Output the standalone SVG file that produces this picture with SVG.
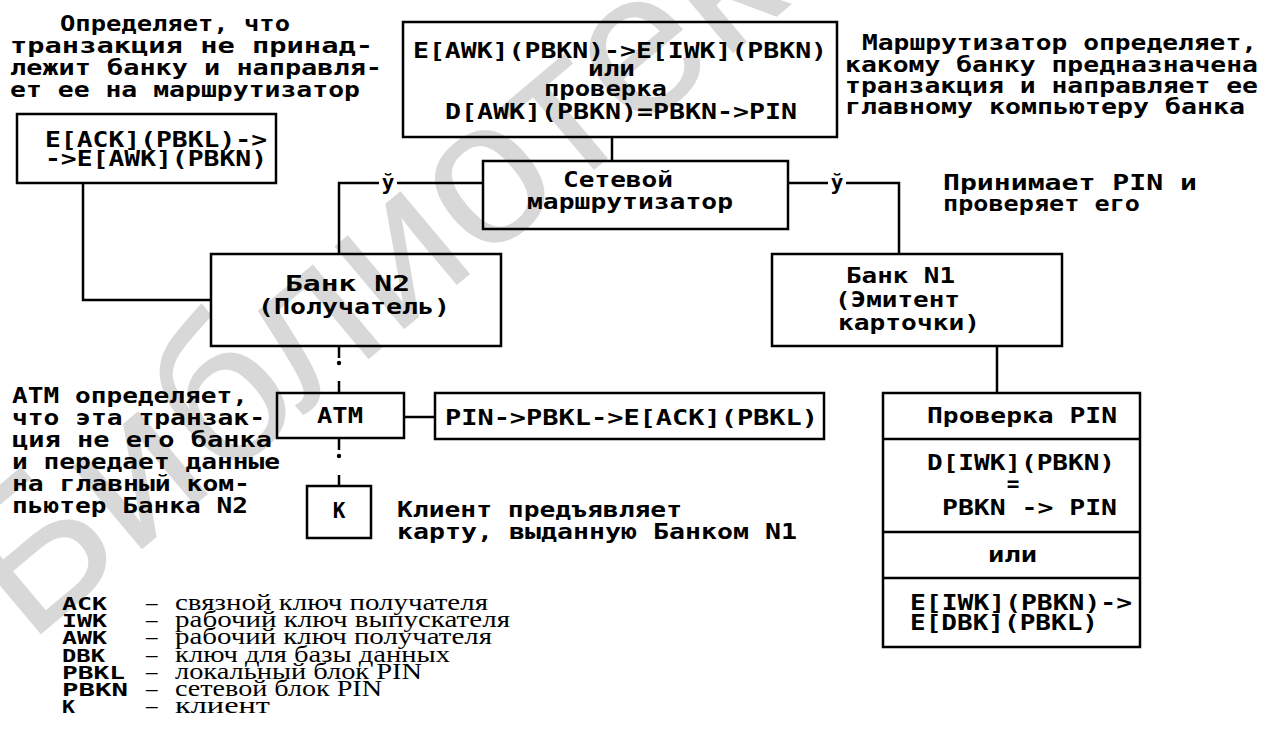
<svg xmlns="http://www.w3.org/2000/svg" width="1274" height="748" viewBox="0 0 1274 748">
<style>
.t{font-family:"DejaVu Sans Mono","Liberation Mono",monospace;font-weight:bold;font-size:21px;fill:#000}
.c{text-anchor:middle}
.s{font-family:"Liberation Serif","Times New Roman",serif;font-size:23px;fill:#000}
.a{font-family:"DejaVu Sans Mono","Liberation Mono",monospace;font-weight:bold;font-size:17px;fill:#000}
.box{fill:none;stroke:#000;stroke-width:2.5}
.ln{fill:none;stroke:#000;stroke-width:2.5}
.wm{font-family:"Liberation Sans",Arial,sans-serif;font-size:205px;fill:#d8d8d8}
</style>
<rect width="1274" height="748" fill="#fff"/>
<g id="watermark">
<text class="wm" transform="translate(28,645) rotate(-40)">Библиотека</text>
</g>
<g id="connectors">
<path class="ln" d="M612,137V161"/>
<path class="ln" d="M483,183H397M379,183H339V254"/>
<path class="ln" d="M788,183H828M846,183H899V254"/>
<path class="ln" d="M83,183V300H211"/>
<path class="ln" d="M339,346V358M339,381V393"/>
<circle cx="339" cy="363" r="2.2" fill="#000"/>
<path class="ln" d="M339,438V450M339,475V486"/>
<circle cx="339" cy="456" r="2.2" fill="#000"/>
<path class="ln" d="M404,417H435"/>
<path class="ln" d="M997,346V393"/>
<text class="t c" x="388" y="190" font-size="23">ў</text>
<text class="t c" x="837" y="190" font-size="23">ў</text>
</g>
<g id="note-top-left">
<text class="t" x="60" y="31" textLength="230" lengthAdjust="spacingAndGlyphs">Определяет, что</text>
<text class="t" x="10" y="53" textLength="363" lengthAdjust="spacingAndGlyphs">транзакция не принад-</text>
<text class="t" x="10" y="75" textLength="372" lengthAdjust="spacingAndGlyphs">лежит банку и направля-</text>
<text class="t" x="10" y="97" textLength="350" lengthAdjust="spacingAndGlyphs">ет ее на маршрутизатор</text>
</g>
<g id="node-ack">
<rect class="box" x="17" y="114" width="259" height="69"/>
<text class="t" x="45" y="147" textLength="222" lengthAdjust="spacingAndGlyphs">E[ACK](PBKL)-&gt;</text>
<text class="t" x="45" y="166" textLength="222" lengthAdjust="spacingAndGlyphs">-&gt;E[AWK](PBKN)</text>
</g>
<g id="node-top">
<rect class="box" x="403" y="22" width="434" height="115"/>
<text class="t" x="413" y="58" textLength="414" lengthAdjust="spacingAndGlyphs">E[AWK](PBKN)-&gt;E[IWK](PBKN)</text>
<text class="t" x="588" y="76" textLength="47" lengthAdjust="spacingAndGlyphs">или</text>
<text class="t" x="544" y="96" textLength="123" lengthAdjust="spacingAndGlyphs">проверка</text>
<text class="t" x="445" y="119" textLength="352" lengthAdjust="spacingAndGlyphs">D[AWK](PBKN)=PBKN-&gt;PIN</text>
</g>
<g id="note-router">
<text class="t" x="862" y="50" textLength="395" lengthAdjust="spacingAndGlyphs">Маршрутизатор определяет,</text>
<text class="t" x="845" y="72" textLength="413" lengthAdjust="spacingAndGlyphs">какому банку предназначена</text>
<text class="t" x="845" y="93" textLength="413" lengthAdjust="spacingAndGlyphs">транзакция и направляет ее</text>
<text class="t" x="845" y="114" textLength="400" lengthAdjust="spacingAndGlyphs">главному компьютеру банка</text>
</g>
<g id="node-router">
<rect class="box" x="483" y="161" width="305" height="68"/>
<text class="t" x="563" y="187" textLength="110" lengthAdjust="spacingAndGlyphs">Сетевой</text>
<text class="t" x="527" y="209" textLength="206" lengthAdjust="spacingAndGlyphs">маршрутизатор</text>
</g>
<g id="note-pin">
<text class="t" x="943" y="190" textLength="254" lengthAdjust="spacingAndGlyphs">Принимает PIN  и</text>
<text class="t" x="943" y="211" textLength="197" lengthAdjust="spacingAndGlyphs">проверяет его</text>
</g>
<g id="node-bank2">
<rect class="box" x="211" y="254" width="290" height="92"/>
<text class="t" x="285" y="291" textLength="125" lengthAdjust="spacingAndGlyphs">Банк  N2</text>
<text class="t" x="258" y="314" textLength="192" lengthAdjust="spacingAndGlyphs">(Получатель)</text>
</g>
<g id="node-bank1">
<rect class="box" x="772" y="254" width="290" height="92"/>
<text class="t" x="846" y="283" textLength="109" lengthAdjust="spacingAndGlyphs">Банк N1</text>
<text class="t" x="835" y="307" textLength="125" lengthAdjust="spacingAndGlyphs">(Эмитент</text>
<text class="t" x="838" y="330" textLength="142" lengthAdjust="spacingAndGlyphs">карточки)</text>
</g>
<g id="note-atm">
<text class="t" x="12" y="403" textLength="236" lengthAdjust="spacingAndGlyphs">АТМ определяет,</text>
<text class="t" x="12" y="425" textLength="253" lengthAdjust="spacingAndGlyphs">что эта транзак-</text>
<text class="t" x="12" y="447" textLength="260" lengthAdjust="spacingAndGlyphs">ция не его банка</text>
<text class="t" x="12" y="469" textLength="268" lengthAdjust="spacingAndGlyphs">и передает данные</text>
<text class="t" x="12" y="491" textLength="238" lengthAdjust="spacingAndGlyphs">на главный ком-</text>
<text class="t" x="12" y="513" textLength="236" lengthAdjust="spacingAndGlyphs">пьютер Банка N2</text>
</g>
<g id="node-atm">
<rect class="box" x="277" y="393" width="127" height="45"/>
<text class="t" x="317" y="423" textLength="46" lengthAdjust="spacingAndGlyphs">ATM</text>
</g>
<g id="node-pin">
<rect class="box" x="435" y="393" width="389" height="46"/>
<text class="t" x="445" y="425" textLength="373" lengthAdjust="spacingAndGlyphs">PIN-&gt;PBKL-&gt;E[ACK](PBKL)</text>
</g>
<g id="node-k">
<rect class="box" x="307" y="486" width="64" height="52"/>
<text class="t c" x="339" y="518">K</text>
</g>
<g id="note-client">
<text class="t" x="397" y="517" textLength="285" lengthAdjust="spacingAndGlyphs">Клиент предъявляет</text>
<text class="t" x="397" y="539" textLength="400" lengthAdjust="spacingAndGlyphs">карту, выданную Банком N1</text>
</g>
<g id="node-check">
<rect class="box" x="883" y="393" width="257" height="254"/>
<path class="ln" d="M883,439H1140M883,532H1140M883,578H1140"/>
<text class="t" x="927" y="423" textLength="190" lengthAdjust="spacingAndGlyphs">Проверка PIN</text>
<text class="t" x="927" y="470" textLength="188" lengthAdjust="spacingAndGlyphs">D[IWK](PBKN)</text>
<text class="t c" x="1013" y="491">=</text>
<text class="t" x="942" y="515" textLength="175" lengthAdjust="spacingAndGlyphs">PBKN -&gt; PIN</text>
<text class="t" x="988" y="562" textLength="49" lengthAdjust="spacingAndGlyphs">или</text>
<text class="t" x="910" y="610" textLength="222" lengthAdjust="spacingAndGlyphs">E[IWK](PBKN)-&gt;</text>
<text class="t" x="910" y="630" textLength="188" lengthAdjust="spacingAndGlyphs">E[DBK](PBKL)</text>
</g>
<g id="legend">
<text class="a" x="62" y="610" textLength="45" lengthAdjust="spacingAndGlyphs">ACK</text>
<text class="a" x="62" y="627" textLength="45" lengthAdjust="spacingAndGlyphs">IWK</text>
<text class="a" x="62" y="644" textLength="45" lengthAdjust="spacingAndGlyphs">AWK</text>
<text class="a" x="62" y="662" textLength="43" lengthAdjust="spacingAndGlyphs">DBK</text>
<text class="a" x="62" y="679" textLength="63" lengthAdjust="spacingAndGlyphs">PBKL</text>
<text class="a" x="62" y="696" textLength="66" lengthAdjust="spacingAndGlyphs">PBKN</text>
<text class="a" x="62" y="713" textLength="13" lengthAdjust="spacingAndGlyphs">K</text>
<text class="s" x="146" y="610">–</text>
<text class="s" x="146" y="627">–</text>
<text class="s" x="146" y="644">–</text>
<text class="s" x="146" y="662">–</text>
<text class="s" x="146" y="679">–</text>
<text class="s" x="146" y="696">–</text>
<text class="s" x="146" y="713">–</text>
<text class="s" x="175" y="610" textLength="313" lengthAdjust="spacingAndGlyphs">связной ключ получателя</text>
<text class="s" x="175" y="627" textLength="335" lengthAdjust="spacingAndGlyphs">рабочий ключ выпускателя</text>
<text class="s" x="175" y="644" textLength="317" lengthAdjust="spacingAndGlyphs">рабочий ключ получателя</text>
<text class="s" x="175" y="662" textLength="275" lengthAdjust="spacingAndGlyphs">ключ для базы данных</text>
<text class="s" x="175" y="679" textLength="247" lengthAdjust="spacingAndGlyphs">локальный блок PIN</text>
<text class="s" x="175" y="696" textLength="207" lengthAdjust="spacingAndGlyphs">сетевой блок PIN</text>
<text class="s" x="175" y="713" textLength="95" lengthAdjust="spacingAndGlyphs">клиент</text>
</g>
</svg>
